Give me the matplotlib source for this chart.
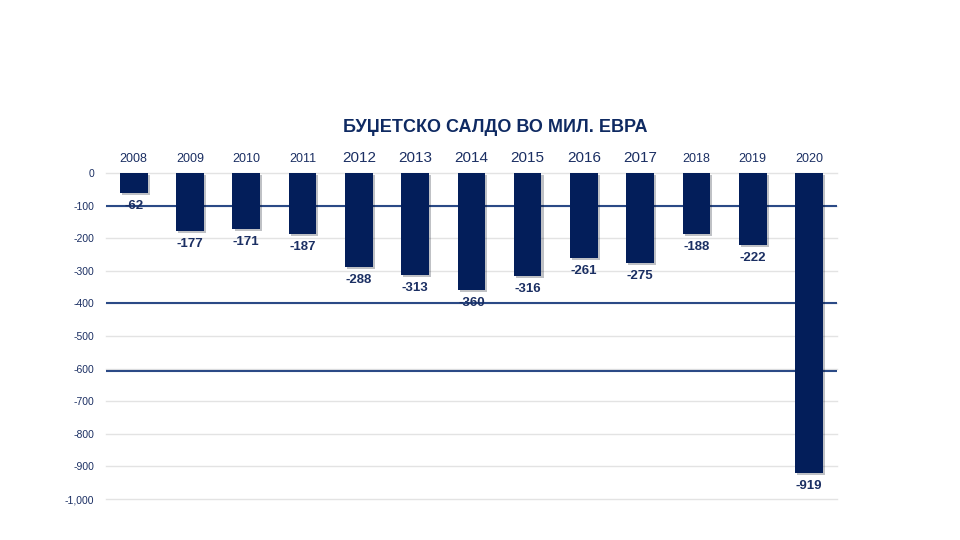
import matplotlib.pyplot as plt
import matplotlib.patheffects as pe
from matplotlib.ticker import FuncFormatter

years = ["2008", "2009", "2010", "2011", "2012", "2013", "2014",
         "2015", "2016", "2017", "2018", "2019", "2020"]
saldo = [-62, -177, -171, -187, -288, -313, -360, -316, -261, -275, -188, -222, -919]
# some year labels in the source are drawn larger
big_years = ["2012", "2013", "2014", "2015", "2016", "2017"]
dark_lines = [-100, -400, -606]

navy = "#031e5a"
text_navy = "#1b2f63"

plt.rcParams["font.family"] = ["Liberation Sans", "DejaVu Sans"]

fig = plt.figure(figsize=(9.6, 5.4), dpi=100)
ax = fig.add_axes([0.110, 0.0759, 0.762, 0.6037])

x = list(range(len(years)))
bars = ax.bar(x, saldo, width=0.49, color=navy, zorder=3)
for b in bars:
    b.set_path_effects([pe.SimplePatchShadow(offset=(1.5, -1.5), alpha=0.25), pe.Normal()])

ax.set_xlim(-0.5, len(years) - 0.5)
ax.set_ylim(-1000, 0)
ax.set_yticks(range(-1000, 1, 100))
ax.yaxis.set_major_formatter(FuncFormatter(lambda v, p: f"{int(v):,}"))
ax.tick_params(axis="y", length=0, labelsize=7.5, labelcolor=text_navy, pad=8)
ax.set_xticks([])
ax.grid(axis="y", color="#e3e3e3", linewidth=1, zorder=0)
for gl in ax.yaxis.get_gridlines():
    gl.set_clip_on(False)
for s in ax.spines.values():
    s.set_visible(False)

for v in dark_lines:
    ax.axhline(v, color="#2b4a86", linewidth=1.5, zorder=2)

for xi, yr, val in zip(x, years, saldo):
    ax.annotate(yr, (xi, 0), xytext=(0, 6), textcoords="offset points",
                ha="center", va="bottom", color=text_navy,
                fontsize=11 if yr in big_years else 9)
    ax.annotate(f"{val}", (xi, val), xytext=(0, -5), textcoords="offset points",
                ha="center", va="top", color=text_navy, fontsize=9.5,
                fontweight="bold", zorder=5)

fig.text(0.516, 1 - 128 / 540, "БУЏЕТСКО САЛДО ВО МИЛ. ЕВРА", ha="center", va="center",
         fontsize=13, fontweight="bold", color="#0f2a62")

fig.savefig("out.png", dpi=100)
